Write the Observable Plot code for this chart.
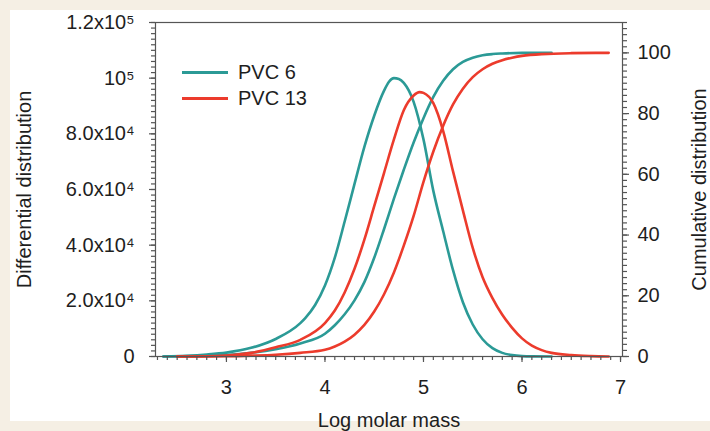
<!DOCTYPE html>
<html><head><meta charset="utf-8">
<script src="https://cdn.jsdelivr.net/npm/d3@7"></script>
<script src="https://cdn.jsdelivr.net/npm/@observablehq/plot@0.6"></script>
<style>
html,body{margin:0;padding:0;background:#f5efe4;}
#wrap{position:relative;width:710px;height:431px;overflow:hidden;}
#panel{position:absolute;left:10px;top:10px;width:700px;height:411px;background:#fff;}
#chart{position:absolute;left:0;top:0;}
.legend{position:absolute;left:182px;top:59px;font:20px "Liberation Sans",Arial,sans-serif;color:#1e1e1e;}
.legend .row{display:flex;align-items:center;height:26px;}
.legend .sw{width:46px;height:3px;margin-right:10px;}
</style>
</head><body>
<div id="wrap"><div id="panel"></div><div id="chart"></div>
<div class="legend" id="legend"></div></div>
<script>
// Series names and colours
const seriesNames = ["PVC 6", "PVC 13"];
const seriesColors = ["#2b9a96", "#ec3b2c"];

// PVC 6 differential distribution (log M, value)
const diff6X = [2.36, 2.6, 2.8, 3.0, 3.25, 3.5, 3.75, 3.8, 3.9, 4.0, 4.1, 4.2, 4.3, 4.4, 4.5, 4.6, 4.65, 4.7, 4.75, 4.8, 4.9, 5.0, 5.1, 5.2, 5.3, 5.4, 5.5, 5.6, 5.7, 5.8, 5.9, 6.0, 6.1, 6.3];
const diff6Y = [0, 250, 700, 1400, 3100, 6300, 12000, 13800, 18500, 25500, 35500, 48500, 62000, 75300, 86500, 95500, 98700, 100000, 99700, 98300, 91500, 78000, 59500, 45000, 31000, 19500, 11500, 6200, 3000, 1300, 500, 150, 40, 0];

// PVC 13 differential distribution
const diff13X = [2.5, 2.9, 3.25, 3.5, 3.75, 4.0, 4.1, 4.2, 4.3, 4.4, 4.5, 4.6, 4.7, 4.8, 4.9, 4.96, 5.0, 5.1, 5.2, 5.3, 5.4, 5.5, 5.6, 5.7, 5.8, 5.9, 6.0, 6.1, 6.2, 6.3, 6.5, 6.7, 6.88];
const diff13Y = [0, 200, 1300, 3300, 6000, 12000, 16500, 23000, 31500, 42000, 54000, 66000, 78000, 88500, 93800, 95000, 94700, 91000, 81000, 66500, 52500, 39000, 28500, 21000, 15000, 10300, 6500, 3900, 2300, 1300, 500, 150, 0];

// PVC 6 cumulative distribution (%)
const cum6X = [2.36, 2.75, 3.0, 3.25, 3.5, 3.75, 4.0, 4.1, 4.2, 4.3, 4.4, 4.5, 4.6, 4.7, 4.8, 4.9, 5.0, 5.1, 5.2, 5.3, 5.4, 5.5, 5.6, 5.7, 5.8, 6.0, 6.3];
const cum6Y = [0, 0.2, 0.5, 1.2, 2.4, 4.3, 7.5, 10.3, 13.9, 18.5, 24.5, 32.5, 42, 52, 61.5, 70.5, 78.5, 85.5, 90.8, 94.6, 97, 98.4, 99.2, 99.6, 99.8, 100, 100];

// PVC 13 cumulative distribution (%)
const cum13X = [2.5, 3.0, 3.25, 3.5, 3.75, 4.0, 4.1, 4.2, 4.3, 4.4, 4.5, 4.6, 4.7, 4.8, 4.9, 5.0, 5.1, 5.2, 5.3, 5.4, 5.5, 5.6, 5.7, 5.8, 5.9, 6.0, 6.2, 6.5, 6.88];
const cum13Y = [0, 0.1, 0.3, 0.6, 1.2, 2.2, 3.3, 4.9, 7.2, 10.4, 14.8, 20.5, 27.7, 36.5, 46.3, 57.5, 67.5, 76, 83, 88.2, 92, 94.6, 96.4, 97.6, 98.4, 99, 99.6, 99.9, 100];

// Axis ticks
const xTicks = [3, 4, 5, 6, 7];
const leftTicks = [0, 20000, 40000, 60000, 80000, 100000, 120000];
const leftTickLabels = ["0", "2.0x10⁴", "4.0x10⁴", "6.0x10⁴", "8.0x10⁴", "10⁵", "1.2x10⁵"];
const rightTicks = [0, 20, 40, 60, 80, 100];
const xDomain = [2.28, 7.02];
const leftMax = 120000;
const rightMax = 110;
const k = leftMax / rightMax;

const font = '"Liberation Sans", Arial, sans-serif';
const ink = "#1e1e1e";
const axisColor = "#555";

const mk = (xs, ys, name, scale) => xs.map((x, i) => ({x, y: ys[i] * scale, name}));
const d6 = mk(diff6X, diff6Y, seriesNames[0], 1);
const d13 = mk(diff13X, diff13Y, seriesNames[1], 1);
const c6 = mk(cum6X, cum6Y, seriesNames[0], k);
const c13 = mk(cum13X, cum13Y, seriesNames[1], k);

const lineOpts = (c) => ({x: "x", y: "y", stroke: c, strokeWidth: 2.6, curve: "monotone-x"});
const minor = {tickSize: 4, strokeWidth: 1.2, stroke: axisColor, strokeOpacity: 1, tickFormat: () => "", label: null};

const chart = Plot.plot({
  width: 710, height: 431,
  marginLeft: 155, marginRight: 88, marginTop: 22, marginBottom: 75,
  style: {fontFamily: font, fontSize: "20px", color: ink, background: "transparent", overflow: "visible"},
  x: {domain: xDomain},
  y: {domain: [0, leftMax]},
  marks: [
    Plot.line(d6, lineOpts(seriesColors[0])),
    Plot.line(c6, lineOpts(seriesColors[0])),
    Plot.line(d13, lineOpts(seriesColors[1])),
    Plot.line(c13, lineOpts(seriesColors[1])),
    Plot.frame({stroke: axisColor, strokeWidth: 1.2}),
    Plot.axisX(d3.range(23, 71).map(v => v / 10), {anchor: "bottom", ...minor}),
    Plot.axisX(xTicks, {anchor: "bottom", tickSize: 6, tickPadding: 17, fill: ink, stroke: axisColor, strokeWidth: 1.2,
      label: "Log molar mass", labelAnchor: "center", labelOffset: 70, labelArrow: "none"}),
    Plot.axisY(d3.range(0, leftMax + 1, 2000), {anchor: "left", ...minor}),
    Plot.axisY(leftTicks, {anchor: "left", tickSize: 6, tickPadding: 15, fill: ink, stroke: axisColor, strokeWidth: 1.2,
      tickFormat: d => leftTickLabels[leftTicks.indexOf(d)],
      label: "Differential distribution", labelAnchor: "center", labelOffset: 139, labelArrow: "none"}),
    Plot.axisY(d3.range(0, rightMax + 1, 2).map(v => v * k), {anchor: "right", ...minor}),
    Plot.axisY(rightTicks.map(v => v * k), {anchor: "right", tickSize: 6, tickPadding: 9, fill: ink, stroke: axisColor, strokeWidth: 1.2,
      tickFormat: d => String(rightTicks[Math.round(d / k / 20)]),
      label: "Cumulative distribution", labelAnchor: "center", labelOffset: 83, labelArrow: "none"})
  ]
});
document.getElementById("chart").appendChild(chart);

const leg = document.getElementById("legend");
seriesNames.forEach((n, i) => {
  const row = document.createElement("div");
  row.className = "row";
  row.innerHTML = `<span class="sw" style="background:${seriesColors[i]}"></span><span>${n}</span>`;
  leg.appendChild(row);
});
</script>
</body></html>
